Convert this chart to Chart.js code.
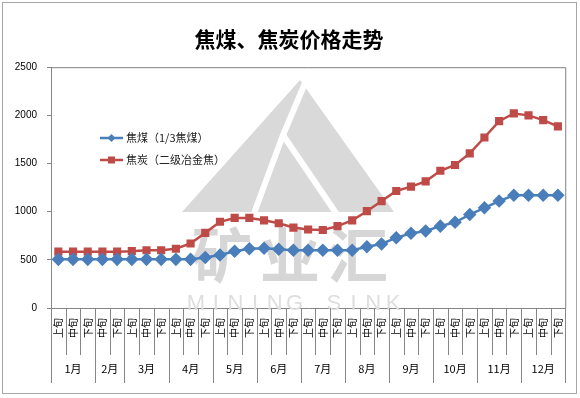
<!DOCTYPE html>
<html lang="zh-CN">
<head>
  <meta charset="UTF-8" />
  <title>焦煤、焦炭价格走势</title>
  <style>
    body { margin: 0; background: #fff; }
    #wrap { width: 580px; height: 398px; }
  </style>
</head>
<body>
  <div id="wrap"><canvas id="chart"></canvas></div>

  <script src="https://cdn.jsdelivr.net/npm/chart.js"></script>
  <script>
    // 上/中/下旬, 2月 only has 中旬 and 下旬
    const periods = [
      '上旬','中旬','下旬',  '中旬','下旬',
      '上旬','中旬','下旬',  '上旬','中旬','下旬',
      '上旬','中旬','下旬',  '上旬','中旬','下旬',
      '上旬','中旬','下旬',  '上旬','中旬','下旬',
      '上旬','中旬','下旬',  '上旬','中旬','下旬',
      '上旬','中旬','下旬',  '上旬','中旬','下旬'
    ];
    const months = ['1月','2月','3月','4月','5月','6月','7月','8月','9月','10月','11月','12月'];
    const monthSpans = [3, 2, 3, 3, 3, 3, 3, 3, 3, 3, 3, 3];

    const cokingCoal = [
      505, 505, 505, 505, 505, 505, 505, 505, 505, 505,
      525, 550, 590, 615, 620, 610, 600, 600, 600, 600,
      600, 635, 665, 730, 775, 800, 850, 890, 970, 1040,
      1110, 1170, 1170, 1170, 1170
    ];
    const coke = [
      585, 585, 585, 585, 585, 590, 600, 600, 615, 670,
      780, 895, 935, 935, 910, 880, 835, 815, 810, 850,
      910, 1005, 1110, 1215, 1260, 1315, 1425, 1485, 1605, 1770,
      1940, 2020, 2000, 1950, 1885
    ];
    const yTicks = [0, 500, 1000, 1500, 2000, 2500];

    const CJK = '"Noto Sans CJK SC", "Liberation Sans", sans-serif';
    const blue = '#4a7ebb', red = '#be4b48', axisGray = '#868686';

    // faint logo watermark behind the lines
    const watermark = {
      id: 'watermark',
      beforeDatasetsDraw(chart) {
        const c = chart.ctx;
        c.save();
        c.fillStyle = '#d9d9d9';
        c.beginPath();
        c.moveTo(300, 80); c.lineTo(394, 212); c.lineTo(182, 212); c.closePath();
        c.fill();
        c.strokeStyle = '#fff';
        c.lineWidth = 6;
        c.beginPath();
        c.moveTo(308, 76); c.lineTo(283, 135); c.lineTo(253, 216);
        c.moveTo(283, 135); c.lineTo(338, 216);
        c.stroke();
        c.fillStyle = '#d6d6d6';
        c.font = 'bold 60px ' + CJK;
        c.textAlign = 'center';
        c.textBaseline = 'middle';
        ['矿', '业', '汇'].forEach((ch, i) => c.fillText(ch, 222 + i * 68, 255));
        c.fillStyle = '#dedede';
        c.font = '22px "Liberation Sans", sans-serif';
        const word = 'MINING SINK';
        for (let i = 0; i < word.length; i++) c.fillText(word[i], 196 + i * 19.7, 304);
        c.restore();
      }
    };

    const frame = {
      id: 'frame',
      afterDraw(chart) {
        const c = chart.ctx, a = chart.chartArea, xs = chart.scales.x;
        const w = (a.right - a.left) / periods.length;
        c.save();
        // plot area top & right edge
        c.strokeStyle = '#808080';
        c.lineWidth = 1;
        c.beginPath();
        c.moveTo(a.left, a.top + 0.5); c.lineTo(a.right + 0.5, a.top + 0.5); c.lineTo(a.right + 0.5, a.bottom);
        c.stroke();
        // category separators
        c.strokeStyle = axisGray;
        c.beginPath();
        for (let i = 0; i <= periods.length; i++) {
          const x = Math.round(xs.left + i * w) + 0.5;
          c.moveTo(x, a.bottom); c.lineTo(x, a.bottom + 47);
        }
        // month separators + labels
        let idx = 0;
        c.moveTo(Math.round(xs.left) + 0.5, a.bottom); c.lineTo(Math.round(xs.left) + 0.5, a.bottom + 75);
        c.fillStyle = '#000';
        c.font = '11px ' + CJK;
        c.textAlign = 'center';
        c.textBaseline = 'middle';
        months.forEach((m, k) => {
          const x0 = xs.getPixelForValue(idx) - w / 2;
          idx += monthSpans[k];
          const x1 = xs.getPixelForValue(idx - 1) + w / 2;
          c.moveTo(Math.round(x1) + 0.5, a.bottom); c.lineTo(Math.round(x1) + 0.5, a.bottom + 75);
          c.fillText(m, (x0 + x1) / 2, a.bottom + 61);
        });
        c.stroke();
        // outer chart border
        c.strokeStyle = '#a6a6a6';
        c.strokeRect(2.5, 2.5, 574, 391);
        c.restore();
      }
    };

    // legend sits inside the plot area
    const innerLegend = {
      id: 'innerLegend',
      afterDatasetsDraw(chart) {
        const c = chart.ctx;
        c.save();
        chart.data.datasets.forEach((ds, i) => {
          const y = 138 + i * 22;
          c.strokeStyle = ds.borderColor;
          c.fillStyle = ds.borderColor;
          c.lineWidth = 2.5;
          c.beginPath(); c.moveTo(100, y); c.lineTo(123, y); c.stroke();
          c.beginPath();
          if (ds.pointStyle === 'rectRot') {
            c.moveTo(111.5, y - 4); c.lineTo(115.5, y); c.lineTo(111.5, y + 4); c.lineTo(107.5, y);
          } else {
            c.rect(108, y - 3.5, 7, 7);
          }
          c.fill();
          c.fillStyle = '#222';
          c.font = '11px ' + CJK;
          c.textBaseline = 'middle';
          c.fillText(ds.label, 126, y);
        });
        c.restore();
      }
    };

    new Chart(document.getElementById('chart'), {
      type: 'line',
      data: {
        labels: periods,
        datasets: [
          { label: '焦煤（1/3焦煤）', data: cokingCoal, borderColor: blue, backgroundColor: blue,
            borderWidth: 2.5, pointStyle: 'rectRot', pointRadius: 5, pointBackgroundColor: blue, pointBorderColor: blue, tension: 0 },
          { label: '焦炭（二级冶金焦）', data: coke, borderColor: red, backgroundColor: red,
            borderWidth: 2.5, pointStyle: 'rect', pointRadius: 4, pointBackgroundColor: red, pointBorderColor: red, tension: 0 }
        ]
      },
      options: {
        responsive: true,
        maintainAspectRatio: false,
        animation: false,
        layout: { padding: { left: 6, right: 8, top: 0, bottom: 0 } },
        plugins: {
          legend: { display: false },
          tooltip: { enabled: false },
          title: {
            display: true,
            text: '焦煤、焦炭价格走势',
            color: '#000',
            font: { family: CJK, size: 21, weight: 'bold' },
            padding: { top: 26, bottom: 16 }
          }
        },
        scales: {
          x: {
            offset: true,
            afterFit: s => { s.height = 90; },
            grid: { display: false, drawTicks: false },
            border: { color: axisGray },
            ticks: { autoSkip: false, minRotation: 90, maxRotation: 90, padding: 10,
                     color: '#000', font: { family: CJK, size: 10 } }
          },
          y: {
            min: 0, max: 2500,
            afterFit: s => { s.width = 45; },
            afterBuildTicks: s => { s.ticks = yTicks.map(v => ({ value: v })); },
            grid: { drawOnChartArea: false, tickLength: 4, color: axisGray },
            border: { color: axisGray },
            ticks: { padding: 10, color: '#000', callback: v => String(v),
                     font: { family: '"Liberation Sans", sans-serif', size: 10 } }
          }
        }
      },
      plugins: [watermark, frame, innerLegend]
    });
  </script>
</body>
</html>
